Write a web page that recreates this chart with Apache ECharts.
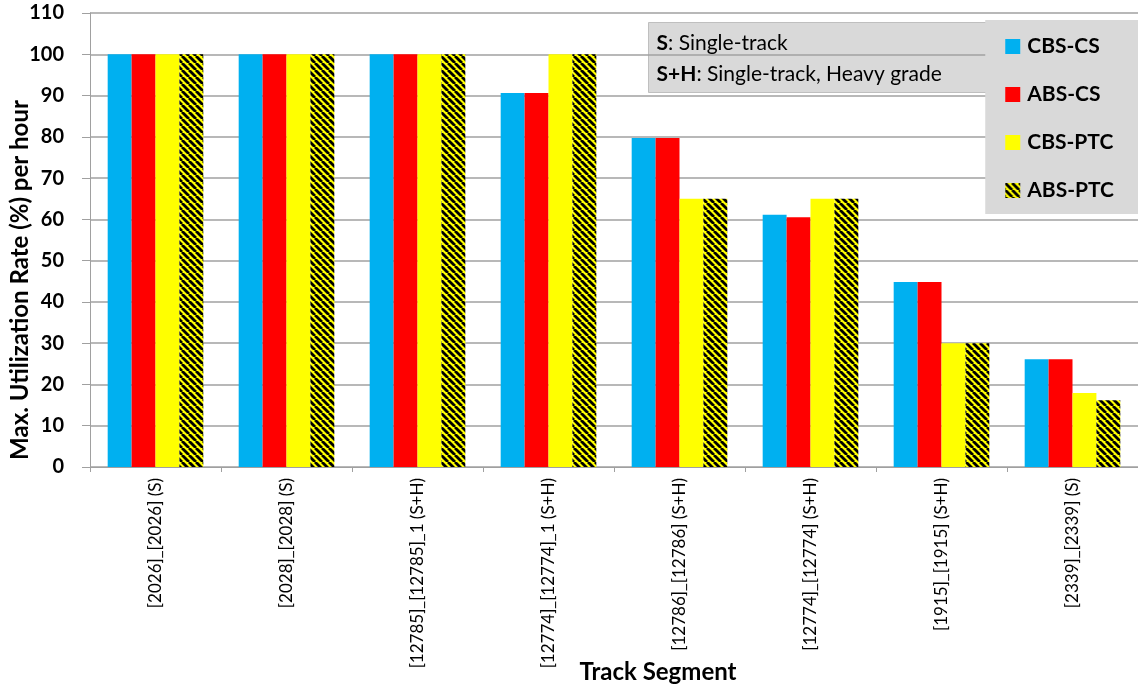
<!DOCTYPE html>
<html>
<head>
<meta charset="utf-8">
<script src="https://cdn.jsdelivr.net/npm/echarts@6/dist/echarts.min.js"></script>
<style>
  html, body { margin: 0; padding: 0; background: #fff; }
  #chart { width: 1138px; height: 687px; }
</style>
</head>
<body>
<div id="chart"></div>
<script>
// 数据
const categories = [
  '[2026]_[2026] (S)',
  '[2028]_[2028] (S)',
  '[12785]_[12785]_1 (S+H)',
  '[12774]_[12774]_1 (S+H)',
  '[12786]_[12786] (S+H)',
  '[12774]_[12774] (S+H)',
  '[1915]_[1915] (S+H)',
  '[2339]_[2339] (S)'
]
const cbsCs  = [100, 100, 100, 90.6, 79.7, 61.1, 44.8, 26.1]
const absCs  = [100, 100, 100, 90.6, 79.7, 60.5, 44.8, 26.1]
const cbsPtc = [100, 100, 100, 100, 65, 65, 30, 17.9]
const absPtc = [100, 100, 100, 100, 65, 65, 30, 16.2]
const seriesNames = ['CBS-CS', 'ABS-CS', 'CBS-PTC', 'ABS-PTC']

const FONT = 'Lato, "Open Sans", sans-serif'

// 黑黄斜线填充
const makeHatch = () => {
  const c = document.createElement('canvas')
  c.width = 7
  c.height = 7
  const ctx = c.getContext('2d')
  ctx.fillStyle = '#ffff00'
  ctx.fillRect(0, 0, 7, 7)
  ctx.strokeStyle = '#000'
  ctx.lineWidth = 2.8
  ;[-7, 0, 7].forEach(k => {
    ctx.beginPath()
    ctx.moveTo(k, 0)
    ctx.lineTo(k + 7, 7)
    ctx.stroke()
  })
  return c
}
const hatch = { image: makeHatch(), repeat: 'repeat' }

const chart = echarts.init(document.getElementById('chart'))

const barSeries = (name, data, color) => ({
  name,
  type: 'bar',
  data,
  barGap: '0%',
  barCategoryGap: '27%',
  itemStyle: { color },
  emphasis: { disabled: true }
})

const option = {
  animation: false,
  grid: { left: 90, right: 0, top: 13, bottom: 220, containLabel: false, outerBoundsMode: 'none' },
  legend: {
    orient: 'vertical',
    right: 0,
    top: 20,
    width: 150,
    backgroundColor: '#d9d9d9',
    padding: [16, 24, 13, 20],
    itemGap: 27,
    itemWidth: 15,
    itemHeight: 15,
    icon: 'rect',
    data: seriesNames,
    textStyle: { fontFamily: FONT, fontWeight: 'bold', fontSize: 21, color: '#000', padding: [0, 0, 0, 2] }
  },
  graphic: [
    {
      type: 'group',
      left: 648,
      top: 22,
      children: [
        {
          type: 'rect',
          shape: { x: 0, y: 0, width: 340, height: 70 },
          style: { fill: '#d9d9d9', stroke: '#bfbfbf', lineWidth: 1 }
        },
        {
          type: 'text',
          x: 8,
          y: 5,
          style: {
            text: '{b|S}{n|: Single-track}\n{b|S+H}{n|: Single-track, Heavy grade}',
            rich: {
              b: { fontFamily: FONT, fontWeight: 'bold', fontSize: 21, fill: '#000', lineHeight: 31 },
              n: { fontFamily: FONT, fontSize: 21, fill: '#000', lineHeight: 31 }
            }
          }
        }
      ]
    }
  ],
  xAxis: {
    type: 'category',
    data: categories,
    name: 'Track Segment',
    nameLocation: 'middle',
    nameGap: 193,
    nameMoveOverlap: false,
    nameTextStyle: { fontFamily: FONT, fontWeight: 'bold', fontSize: 24, color: '#000', padding: [0, 0, 0, 88] },
    axisLine: { lineStyle: { color: '#a0a0a0' } },
    axisTick: { show: true, length: 5, lineStyle: { color: '#a0a0a0' } },
    axisLabel: {
      rotate: 90,
      interval: 0,
      margin: 11,
      fontFamily: FONT,
      fontSize: 17,
      color: '#000'
    }
  },
  yAxis: {
    type: 'value',
    min: 0,
    max: 110,
    interval: 10,
    name: 'Max. Utilization Rate (%) per hour',
    nameLocation: 'middle',
    nameGap: 58,
    nameMoveOverlap: false,
    nameTextStyle: { fontFamily: FONT, fontWeight: 'bold', fontSize: 24, color: '#000', padding: [0, 80, 0, 0] },
    axisLine: { show: true, lineStyle: { color: '#a0a0a0' } },
    axisTick: { show: true, length: 8, lineStyle: { color: '#a0a0a0' } },
    axisLabel: { margin: 26, fontFamily: FONT, fontWeight: 'bold', fontSize: 20, color: '#000' },
    splitLine: { lineStyle: { color: '#a0a0a0', width: 1.5 } }
  },
  series: [
    barSeries(seriesNames[0], cbsCs, '#00b0f0'),
    barSeries(seriesNames[1], absCs, '#ff0000'),
    barSeries(seriesNames[2], cbsPtc, '#ffff00'),
    barSeries(seriesNames[3], absPtc, hatch)
  ]
}

chart.setOption(option)
</script>
</body>
</html>
